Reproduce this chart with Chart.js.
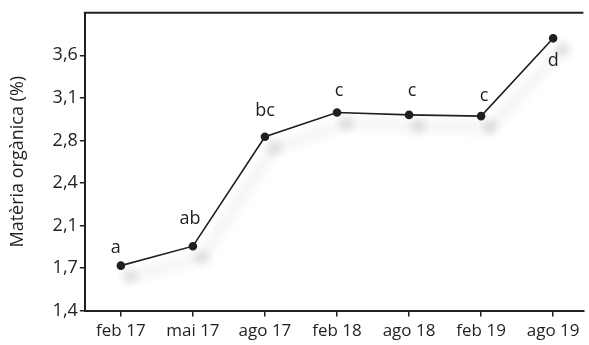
<!DOCTYPE html>
<html>
<head>
<meta charset="utf-8">
<script src="https://cdn.jsdelivr.net/npm/chart.js@4.4.1/dist/chart.umd.min.js"></script>
<style>
  body { margin: 0; background: #fff; }
  #wrap { width: 589px; height: 345px; }
</style>
</head>
<body>
<div id="wrap"><canvas id="grafic"></canvas></div>
<script>
// dades llegides del gràfic
const categories = ['feb 17', 'mai 17', 'ago 17', 'feb 18', 'ago 18', 'feb 19', 'ago 19'];
const materiaOrganica = [1.77, 1.93, 2.83, 3.03, 3.01, 3.00, 3.64];
const lletres = ['a', 'ab', 'bc', 'c', 'c', 'c', 'd'];
const yTickValues = [1.4, 1.75, 2.1, 2.45, 2.8, 3.15, 3.5];
const yTickLabels = ['1,4', '1,7', '2,1', '2,4', '2,8', '3,1', '3,6'];

// desplaçament de cada lletra respecte del punt (dx, dy de la línia base)
const lletraOffset = [[-5, -13], [-3, -22], [0, -21], [2, -16], [3, -19], [3, -15], [0, 28]];

const ink = '#231f20';
const font = "'Open Sans', sans-serif";

const ombra = {
  id: 'ombra',
  beforeDatasetDraw(chart) {
    const c = chart.ctx;
    c.save();
    c.shadowColor = 'rgba(0,0,0,0.3)';
    c.shadowBlur = 12;
    c.shadowOffsetX = 9;
    c.shadowOffsetY = 11;
  },
  afterDatasetDraw(chart) {
    chart.ctx.restore();
  }
};

const marc = {
  id: 'marc',
  afterDraw(chart) {
    const c = chart.ctx;
    const a = chart.chartArea;
    c.save();
    c.strokeStyle = ink;
    c.lineWidth = 2;
    c.beginPath();
    c.moveTo(a.left - 1, a.top);
    c.lineTo(a.right, a.top);
    c.stroke();
    // lletres de significació
    c.fillStyle = ink;
    c.font = '18px ' + font;
    c.textAlign = 'center';
    c.textBaseline = 'alphabetic';
    const pts = chart.getDatasetMeta(0).data;
    pts.forEach((p, i) => {
      c.fillText(lletres[i], p.x + lletraOffset[i][0], p.y + lletraOffset[i][1]);
    });
    c.restore();
  }
};

const ctx = document.getElementById('grafic').getContext('2d');

new Chart(ctx, {
  type: 'line',
  data: {
    datasets: [{
      data: materiaOrganica.map((v, i) => ({ x: i, y: v })),
      borderColor: ink,
      borderWidth: 1.6,
      pointBackgroundColor: ink,
      pointBorderColor: ink,
      pointRadius: 3.5,
      tension: 0
    }]
  },
  options: {
    responsive: true,
    maintainAspectRatio: false,
    animation: false,
    layout: { padding: { top: 3, right: 1, left: 7, bottom: 0 } },
    plugins: { legend: { display: false }, tooltip: { enabled: false } },
    scales: {
      x: {
        type: 'linear',
        min: -0.5,
        max: 6.42,
        afterBuildTicks: axis => { axis.ticks = categories.map((c, i) => ({ value: i })); },
        ticks: {
          color: ink,
          font: { family: font, size: 17 },
          padding: 4,
          maxRotation: 0,
          autoSkip: false,
          callback: v => categories[v]
        },
        grid: { drawOnChartArea: false, drawTicks: true, tickLength: 6, color: ink, lineWidth: 1.5 },
        border: { color: ink, width: 2 }
      },
      y: {
        min: 1.4,
        max: 3.85,
        afterBuildTicks: axis => { axis.ticks = yTickValues.map(v => ({ value: v })); },
        ticks: {
          color: ink,
          font: { family: font, size: 18 },
          padding: 2,
          callback: (v) => yTickLabels[yTickValues.indexOf(v)]
        },
        grid: { drawOnChartArea: false, drawTicks: true, tickLength: 5, color: ink, lineWidth: 1.5 },
        border: { color: ink, width: 2 },
        title: {
          display: true,
          text: 'Matèria orgànica (%)',
          color: ink,
          font: { family: font, size: 18 },
          padding: { top: 0, bottom: 22 }
        }
      }
    }
  },
  plugins: [ombra, marc]
});
</script>
</body>
</html>
